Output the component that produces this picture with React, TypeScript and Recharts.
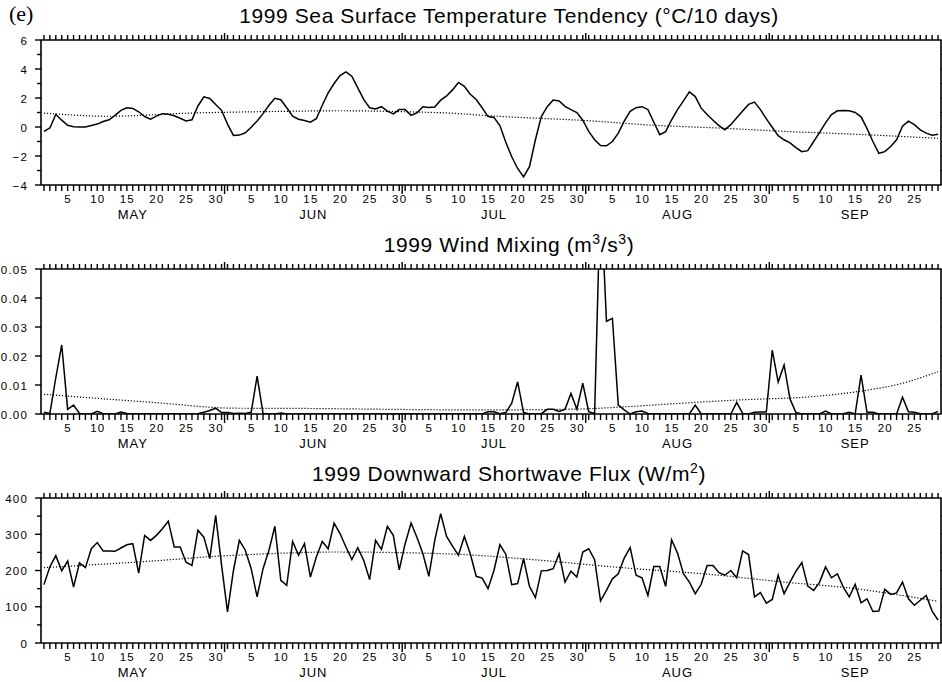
import { LineChart, Line, XAxis, YAxis } from 'recharts'

// calendar: May 1 .. Sep 29, 1999 (one value per day)
const monthNames = ['MAY', 'JUN', 'JUL', 'AUG', 'SEP']
const monthLengths = [31, 30, 31, 31, 30]
const monthLabelDays = [16, 46.5, 77, 108, 138]

// SST tendency (°C/10 days), daily
const sstValues = [
  -0.3, -0.07, 0.86, 0.47, 0.12, 0.02, 0.0, 0.0, 0.1, 0.2,
  0.38, 0.5, 0.8, 1.15, 1.32, 1.28, 1.05, 0.72, 0.54, 0.75,
  0.92, 0.88, 0.78, 0.6, 0.42, 0.5, 1.45, 2.08, 1.97, 1.55,
  1.15, 0.2, -0.58, -0.56, -0.4, -0.02, 0.42, 0.92, 1.5, 1.98,
  1.88, 1.33, 0.74, 0.54, 0.45, 0.33, 0.57, 1.5, 2.35, 3.0,
  3.55, 3.8, 3.5, 2.7, 1.9, 1.33, 1.25, 1.4, 1.1, 0.9,
  1.2, 1.2, 0.8, 0.98, 1.4, 1.35, 1.38, 1.85, 2.14, 2.56,
  3.07, 2.8, 2.26, 1.9, 1.33, 0.72, 0.66, 0.1, -1.05, -2.05,
  -2.86, -3.44, -2.74, -0.88, 0.72, 1.4, 1.86, 1.8, 1.42, 1.2,
  1.0, 0.47, -0.3, -0.88, -1.28, -1.3, -1.0, -0.42, 0.4, 1.08,
  1.33, 1.4, 1.2, 0.33, -0.53, -0.32, 0.5, 1.2, 1.8, 2.42,
  2.1, 1.3, 0.86, 0.47, 0.1, -0.19, 0.16, 0.63, 1.1, 1.56,
  1.72, 1.2, 0.56, -0.02, -0.6, -0.88, -1.1, -1.42, -1.7, -1.63,
  -1.0, -0.37, 0.28, 0.86, 1.12, 1.14, 1.12, 1.0, 0.7, -0.1,
  -1.0, -1.81, -1.7, -1.35, -0.88, 0.05, 0.4, 0.16, -0.2, -0.42,
  -0.56, -0.5,
]
const sstTrendDays = [1, 12, 25, 40, 51, 62, 70, 76, 93, 104, 116, 127, 138, 152]
const sstTrendValues = [0.96, 0.74, 0.95, 1.07, 1.12, 1.05, 0.95, 0.78, 0.43, 0.12, -0.09, -0.32, -0.5, -0.78]

// wind mixing (m3/s3), daily
const windValues = [
  0.0006, 0.0002, 0.0125, 0.0238, 0.0016, 0.0031, 0.0002, 0, 0, 0.0009,
  0.0001, 0, 0, 0.0007, 0.0002, 0.0001, 0, 0, 0.0001, 0,
  0, 0, 0.0001, 0, 0, 0, 0.0001, 0.0006, 0.0012, 0.002,
  0.0005, 0.0005, 0.0002, 0.0003, 0.0002, 0.0006, 0.0131, 0.0002, 0, 0,
  0.0003, 0, 0, 0, 0, 0, 0, 0, 0, 0,
  0, 0, 0, 0, 0, 0, 0, 0, 0, 0,
  0, 0, 0, 0, 0, 0, 0, 0, 0, 0,
  0, 0, 0, 0, 0, 0.0008, 0.0008, 0.0001, 0.0005, 0.0037,
  0.0111, 0.0005, 0, 0, 0.0001, 0.0016, 0.0016, 0.0009, 0.0016, 0.0071,
  0.0017, 0.0106, 0.0008, 0.0002, 0.077, 0.032, 0.033, 0.0031, 0.0014, 0,
  0.0008, 0.001, 0.0002, 0, 0, 0, 0, 0, 0, 0,
  0.0031, 0, 0, 0, 0, 0, 0, 0.004, 0.0002, 0,
  0.0006, 0.0007, 0.0007, 0.022, 0.011, 0.0169, 0.0052, 0.0005, 0, 0,
  0, 0, 0.001, 0, 0, 0.0001, 0.0006, 0, 0.0134, 0.0006,
  0.0006, 0, 0, 0, 0, 0.0058, 0.0008, 0.0006, 0.0001, 0,
  0, 0.0009,
]
const windTrendDays = [1, 10, 20, 33, 46, 60, 74, 91, 100, 111, 118, 132, 139, 146, 152]
const windTrendValues = [0.0068, 0.0054, 0.0039, 0.002, 0.0019, 0.0016, 0.0014, 0.0017, 0.0026, 0.004, 0.0048, 0.0062, 0.0079, 0.0106, 0.0146]

// downward shortwave flux (W/m2), daily
const swValues = [
  161, 210, 241, 199, 226, 154, 221, 208, 260, 277,
  254, 254, 253, 262, 271, 274, 193, 297, 283, 297,
  315, 336, 265, 265, 223, 214, 311, 292, 233, 352,
  214, 86, 200, 283, 256, 205, 127, 205, 256, 322,
  173, 159, 280, 242, 274, 182, 237, 280, 260, 331,
  302, 265, 230, 263, 228, 175, 283, 258, 322, 297,
  202, 274, 331, 291, 246, 184, 283, 357, 294, 267,
  242, 294, 246, 184, 179, 150, 200, 271, 245, 161,
  164, 233, 156, 125, 199, 200, 205, 246, 168, 198,
  182, 251, 260, 230, 116, 145, 177, 191, 234, 263,
  187, 180, 131, 211, 211, 156, 285, 248, 191, 168,
  136, 162, 214, 214, 194, 187, 200, 180, 254, 244,
  127, 139, 110, 120, 187, 136, 168, 198, 222, 157,
  145, 168, 210, 180, 191, 154, 127, 162, 111, 122,
  87, 88, 148, 134, 138, 168, 122, 104, 118, 131,
  88, 63,
]
const swTrendDays = [1, 20, 30, 40, 50, 62, 74, 85, 97, 115, 126, 138, 146, 152]
const swTrendValues = [208, 227, 239, 247, 251, 249, 242, 228, 210, 187, 168, 150, 131, 115]

const sstTicks = [-4, -3, -2, -1, 0, 1, 2, 3, 4, 5, 6]
const sstMajor = [-4, -2, 0, 2, 4, 6]
const windTicks = [0, 0.01, 0.02, 0.03, 0.04, 0.05]
const swTicks = [0, 50, 100, 150, 200, 250, 300, 350, 400]
const swMajor = [0, 100, 200, 300, 400]

const FONT = '"Liberation Sans", Arial, sans-serif'

// month starts (day index) and boundaries between months
const monthStarts: number[] = []
let acc = 0
monthLengths.forEach((len) => {
  monthStarts.push(acc + 1)
  acc += len
})
const boundaries = monthStarts.slice(1).map((s) => s - 0.5)

const dayOfMonth = (d: number) => {
  let start = 1
  monthStarts.forEach((s) => {
    if (s <= d) start = s
  })
  return d - start + 1
}

const dayIdx = sstValues.map((_, i) => i + 1)
const xTicks = Array.from(new Set([...dayIdx, ...boundaries, ...monthLabelDays])).sort((a, b) => a - b)

const buildRows = (values: number[], tDays: number[], tVals: number[]) =>
  values.map((v, i) => {
    const d = i + 1
    const k = tDays.indexOf(d)
    return { day: d, value: v, trend: k >= 0 ? tVals[k] : null }
  })

const BottomTick = (props: any) => {
  const { x, y, payload } = props
  const v = payload.value
  const isDay = Number.isInteger(v)
  const isBoundary = boundaries.includes(v)
  const m = monthLabelDays.indexOf(v)
  const dom = isDay ? dayOfMonth(v) : 0
  return (
    <g>
      {isDay && <line x1={x} x2={x} y1={y} y2={y + 6} stroke="#000" strokeWidth={1.4} />}
      {isBoundary && <line x1={x} x2={x} y1={y} y2={y + 9} stroke="#000" strokeWidth={1.4} />}
      {isDay && dom % 5 === 0 && (
        <text x={x + 0.5} y={y + 17.5} textAnchor="middle" fontSize={11.5} letterSpacing={1.2} fontFamily={FONT} fill="#000">
          {dom}
        </text>
      )}
      {m >= 0 && (
        <text x={x} y={y + 34} textAnchor="middle" fontSize={13} letterSpacing={1} fontFamily={FONT} fill="#000">
          {monthNames[m]}
        </text>
      )}
    </g>
  )
}

const TopTick = (props: any) => {
  const { x, y, payload } = props
  const v = payload.value
  const isDay = Number.isInteger(v)
  const isBoundary = boundaries.includes(v)
  if (!isDay && !isBoundary) return <g />
  return <line x1={x} x2={x} y1={y} y2={y - (isBoundary ? 7 : 5)} stroke="#000" strokeWidth={1.4} />
}

const makeLeftTick = (major: number[] | null, fmt: (v: number) => string) => (props: any) => {
  const { x, y, payload } = props
  const v = payload.value
  const isMajor = major === null || major.some((m) => Math.abs(m - v) < 1e-9)
  return (
    <g>
      <line x1={x} x2={x - (isMajor ? 6 : 4)} y1={y} y2={y} stroke="#000" strokeWidth={1.4} />
      {isMajor && (
        <text x={x - 13} y={y + 4.5} textAnchor="end" fontSize={11.5} letterSpacing={1.2} fontFamily={FONT} fill="#000">
          {fmt(v)}
        </text>
      )}
    </g>
  )
}

const RightTick = (props: any) => {
  const { x, y } = props
  return <line x1={x} x2={x + 3} y1={y} y2={y} stroke="#000" strokeWidth={1} />
}

interface PanelProps {
  top: number
  title: React.ReactNode
  rows: any[]
  domain: [number, number]
  yTicks: number[]
  major: number[] | null
  fmt: (v: number) => string
}

function Panel({ top, title, rows, domain, yTicks, major, fmt }: PanelProps) {
  const axisLine = { stroke: '#000', strokeWidth: 1.6 }
  return (
    <div style={{ position: 'absolute', left: 0, top, width: 942, height: 229 }}>
      <div
        style={{
          position: 'absolute',
          left: 509,
          top: 5,
          transform: 'translateX(-50%)',
          whiteSpace: 'nowrap',
          fontFamily: FONT,
          fontSize: 21,
          lineHeight: '21px',
          letterSpacing: 0.6,
          color: '#000',
        }}
      >
        {title}
      </div>
      {/* axes need a size of at least 1px or Recharts skips them */}
      <LineChart width={942} height={229} data={rows} margin={{ top: 39, right: 0, bottom: 43, left: 40 }}>
        <XAxis
          xAxisId="b"
          dataKey="day"
          type="number"
          domain={[0.5, 152.5]}
          allowDataOverflow
          ticks={xTicks}
          interval={0}
          height={1}
          tickSize={0}
          tickMargin={0}
          axisLine={axisLine}
          tick={(p: any) => <BottomTick {...p} />}
        />
        <XAxis
          xAxisId="t"
          orientation="top"
          dataKey="day"
          type="number"
          domain={[0.5, 152.5]}
          allowDataOverflow
          ticks={xTicks}
          interval={0}
          height={1}
          tickSize={0}
          tickMargin={0}
          axisLine={axisLine}
          tick={(p: any) => <TopTick {...p} />}
        />
        <YAxis
          yAxisId="l"
          type="number"
          domain={domain}
          allowDataOverflow
          ticks={yTicks}
          interval={0}
          width={1}
          tickSize={0}
          tickMargin={0}
          axisLine={axisLine}
          tick={makeLeftTick(major, fmt)}
        />
        <YAxis
          yAxisId="r"
          orientation="right"
          type="number"
          domain={domain}
          allowDataOverflow
          ticks={yTicks}
          interval={0}
          width={1}
          tickSize={0}
          tickMargin={0}
          axisLine={axisLine}
          tick={(p: any) => <RightTick {...p} />}
        />
        <Line
          xAxisId="b"
          yAxisId="l"
          dataKey="trend"
          type="monotone"
          connectNulls
          stroke="#000"
          strokeWidth={1.2}
          strokeDasharray="1.2 1.8"
          dot={false}
          isAnimationActive={false}
        />
        <Line
          xAxisId="b"
          yAxisId="l"
          dataKey="value"
          type="linear"
          stroke="#000"
          strokeWidth={1.5}
          dot={false}
          isAnimationActive={false}
        />
      </LineChart>
    </div>
  )
}

const sup = (s: string) => (
  <span style={{ fontSize: 14, verticalAlign: 'super', lineHeight: 0 }}>{s}</span>
)

export default function App() {
  const sstRows = buildRows(sstValues, sstTrendDays, sstTrendValues)
  const windRows = buildRows(windValues, windTrendDays, windTrendValues)
  const swRows = buildRows(swValues, swTrendDays, swTrendValues)
  return (
    <div style={{ position: 'absolute', left: 0, top: 0, width: 942, height: 682, background: '#fff', overflow: 'hidden' }}>
      <div
        style={{
          position: 'absolute',
          left: 9,
          top: 2,
          fontFamily: '"Liberation Serif", "Times New Roman", serif',
          fontSize: 22,
          lineHeight: '24px',
          color: '#000',
        }}
      >
        (e)
      </div>
      <Panel
        top={0}
        title="1999 Sea Surface Temperature Tendency (°C/10 days)"
        rows={sstRows}
        domain={[-4, 6]}
        yTicks={sstTicks}
        major={sstMajor}
        fmt={(v) => (v < 0 ? '\u2212' + Math.abs(v) : String(v))}
      />
      <Panel
        top={229}
        title={<>1999 Wind Mixing (m{sup('3')}/s{sup('3')})</>}
        rows={windRows}
        domain={[0, 0.05]}
        yTicks={windTicks}
        major={null}
        fmt={(v) => v.toFixed(2)}
      />
      <Panel
        top={458}
        title={<>1999 Downward Shortwave Flux (W/m{sup('2')})</>}
        rows={swRows}
        domain={[0, 400]}
        yTicks={swTicks}
        major={swMajor}
        fmt={(v) => String(v)}
      />
    </div>
  )
}
